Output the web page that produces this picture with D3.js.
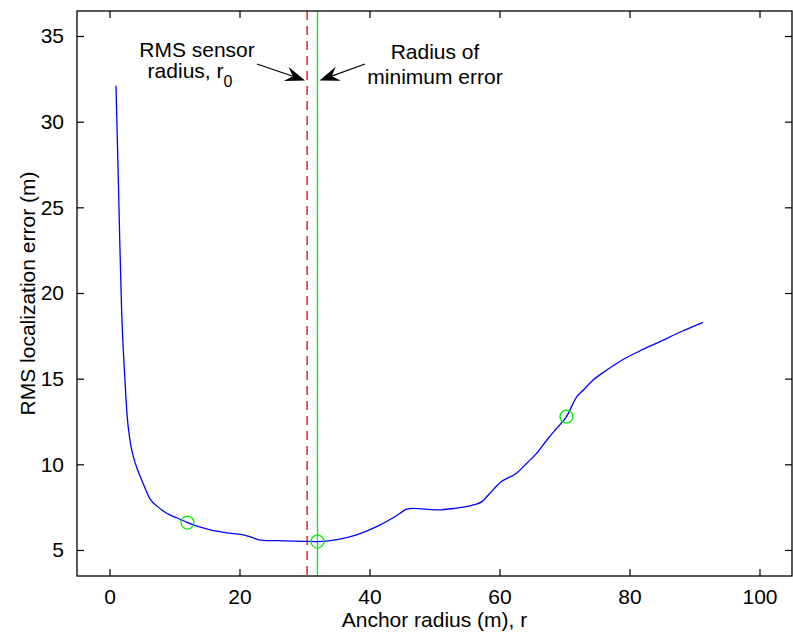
<!DOCTYPE html>
<html>
<head>
<meta charset="utf-8">
<script src="https://cdn.jsdelivr.net/npm/d3@7"></script>
<style>
  body { margin: 0; background: #fff; }
  text { font-family: "Liberation Sans", Arial, sans-serif; fill: #000; }
</style>
</head>
<body>
<div id="chart"></div>
<script>
// RMS localization error vs anchor radius

const radius = [1.0, 1.36, 1.6, 1.88, 2.38, 2.7, 3.15, 3.67, 4.3, 4.95, 6.2, 7.5, 8.8, 10.5, 12.0,
  15.5, 18, 20.6, 22, 23.2, 26.7, 30, 32.0, 35, 38.0, 41.1, 43.5, 44.7, 45.7, 46.7, 50.3, 53,
  56.0, 57.3, 58.5, 60.3, 62.6, 64.2, 65.7, 67.3, 68.8, 70.3, 71.9, 72.9, 74.4, 76.5, 78.5,
  81.5, 84.7, 88, 91.3];
const rmsError = [32.1, 26.6, 22.7, 18.8, 14.9, 12.9, 11.4, 10.45, 9.7, 9.09, 8.0, 7.5, 7.14, 6.85, 6.6,
  6.17, 6.0, 5.88, 5.72, 5.58, 5.53, 5.50, 5.49, 5.6, 5.88, 6.36, 6.85, 7.14, 7.39, 7.43, 7.34, 7.42,
  7.63, 7.82, 8.3, 8.99, 9.48, 10.06, 10.64, 11.42, 12.1, 12.78, 13.95, 14.34, 14.92, 15.5, 16.0,
  16.6, 17.16, 17.75, 18.29];

const markerX = [12.0, 32.0, 70.3];
const markerY = [6.6, 5.49, 12.78];

const sensorRadius = 30.4;   // r0, dashed red
const minErrRadius = 32.0;   // solid green

const xTicks = [0, 20, 40, 60, 80, 100];
const yTicks = [5, 10, 15, 20, 25, 30, 35];

const W = 793, H = 637;
const margin = { top: 11, right: 1, bottom: 61, left: 77 };
const FS = 21;

const svg = d3.select("#chart").append("svg")
  .attr("width", W)
  .attr("height", H);

const x = d3.scaleLinear().domain([-5, 105]).range([margin.left, W - margin.right]);
const y = d3.scaleLinear().domain([3.48, 36.46]).range([H - margin.bottom, margin.top]);

const data = radius.map((r, i) => ({ r: r, e: rmsError[i] }));
const marks = markerX.map((r, i) => ({ r: r, e: markerY[i] }));

// vertical reference lines
svg.append("line")
  .attr("x1", x(sensorRadius)).attr("x2", x(sensorRadius))
  .attr("y1", y.range()[1]).attr("y2", y.range()[0])
  .attr("stroke", "#e00000").attr("stroke-width", 1.3)
  .attr("stroke-dasharray", "9,6");

svg.append("line")
  .attr("x1", x(minErrRadius)).attr("x2", x(minErrRadius))
  .attr("y1", y.range()[1]).attr("y2", y.range()[0])
  .attr("stroke", "#00ee00").attr("stroke-width", 1.3);

// error curve
const line = d3.line()
  .x(d => x(d.r))
  .y(d => y(d.e))
  .curve(d3.curveMonotoneX);

svg.append("path")
  .datum(data)
  .attr("fill", "none")
  .attr("stroke", "#0000ff")
  .attr("stroke-width", 1.3)
  .attr("d", line);

svg.append("g")
  .selectAll("circle")
  .data(marks)
  .join("circle")
  .attr("cx", d => x(d.r))
  .attr("cy", d => y(d.e))
  .attr("r", 6.5)
  .attr("fill", "none")
  .attr("stroke", "#00ee00")
  .attr("stroke-width", 1.3);

// axes: ticks inward on all four sides
const x0 = x.range()[0], x1 = x.range()[1], y0 = y.range()[0], y1 = y.range()[1];
const tickStyle = g => {
  g.select(".domain").remove();
  g.selectAll(".tick line").attr("stroke", "#000").attr("stroke-width", 1.2);
  g.selectAll(".tick text").attr("font-size", FS).attr("fill", "#000")
    .style("font-family", '"Liberation Sans", Arial, sans-serif');
};

svg.append("g")
  .attr("transform", `translate(0,${y0})`)
  .call(d3.axisBottom(x).tickValues(xTicks).tickSize(-7).tickPadding(13))
  .call(tickStyle);

svg.append("g")
  .attr("transform", `translate(0,${y1})`)
  .call(d3.axisTop(x).tickValues(xTicks).tickSize(-7).tickFormat(""))
  .call(tickStyle);

svg.append("g")
  .attr("transform", `translate(${x0},0)`)
  .call(d3.axisLeft(y).tickValues(yTicks).tickSize(-7).tickPadding(13))
  .call(tickStyle);

svg.append("g")
  .attr("transform", `translate(${x1},0)`)
  .call(d3.axisRight(y).tickValues(yTicks).tickSize(-7).tickFormat(""))
  .call(tickStyle);

svg.append("rect")
  .attr("x", x0).attr("y", y1)
  .attr("width", x1 - x0).attr("height", y0 - y1)
  .attr("fill", "none").attr("stroke", "#000").attr("stroke-width", 1.3);

// axis titles
svg.append("text")
  .attr("x", (x0 + x1) / 2).attr("y", 627)
  .attr("text-anchor", "middle").attr("font-size", FS)
  .text("Anchor radius (m), r");

svg.append("text")
  .attr("transform", `translate(35,${(y0 + y1) / 2}) rotate(-90)`)
  .attr("text-anchor", "middle").attr("font-size", FS)
  .text("RMS localization error (m)");

// annotations
svg.append("text")
  .attr("x", 197).attr("y", 57)
  .attr("text-anchor", "middle").attr("font-size", FS)
  .text("RMS sensor");

const r0 = svg.append("text")
  .attr("x", 190).attr("y", 78)
  .attr("text-anchor", "middle").attr("font-size", FS);
r0.append("tspan").text("radius, r");
r0.append("tspan").attr("font-size", 16).attr("dy", 9).text("0");

svg.append("text")
  .attr("x", 435).attr("y", 59)
  .attr("text-anchor", "middle").attr("font-size", FS)
  .text("Radius of");

svg.append("text")
  .attr("x", 435).attr("y", 84)
  .attr("text-anchor", "middle").attr("font-size", FS)
  .text("minimum error");

function arrow(fromX, fromY, toX, toY) {
  const ang = Math.atan2(toY - fromY, toX - fromX);
  const len = 20, half = 7.5, notch = 13;
  const pt = (d, o) => [toX - d * Math.cos(ang) - o * Math.sin(ang),
                        toY - d * Math.sin(ang) + o * Math.cos(ang)];
  const base = pt(notch, 0);
  svg.append("line")
    .attr("x1", fromX).attr("y1", fromY)
    .attr("x2", base[0]).attr("y2", base[1])
    .attr("stroke", "#000").attr("stroke-width", 1.2);
  svg.append("path")
    .attr("d", d3.line()([[toX, toY], pt(len, half), base, pt(len, -half)]) + "Z")
    .attr("fill", "#000");
}

arrow(257, 64, x(sensorRadius) - 2, 80.5);
arrow(365, 64, x(minErrRadius) + 2, 80.5);
</script>
</body>
</html>
